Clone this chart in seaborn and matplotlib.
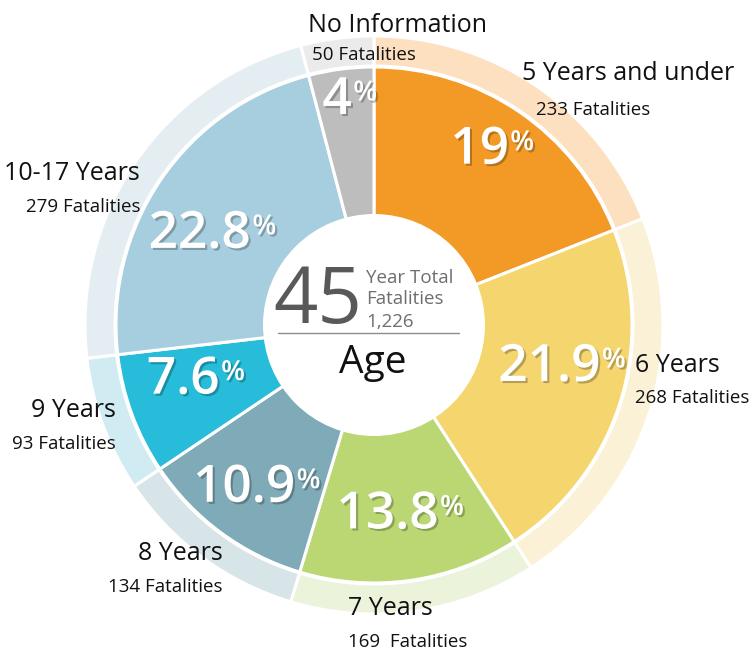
import numpy as np
import matplotlib.pyplot as plt
import matplotlib.patheffects as pe
from matplotlib.patches import Circle
import seaborn as sns

# age groups, clockwise from 12 o'clock
ages = ["5 Years and under", "6 Years", "7 Years", "8 Years",
        "9 Years", "10-17 Years", "No Information"]
fatalities = [233, 268, 169, 134, 93, 279, 50]
pct_labels = ["19", "21.9", "13.8", "10.9", "7.6", "22.8", "4"]
fatality_labels = ["233 Fatalities", "268 Fatalities", "169  Fatalities",
                   "134 Fatalities", "93 Fatalities", "279 Fatalities",
                   "50 Fatalities"]
years = "45"
total = "1,226"

inner_colors = ["#F39A26", "#F4D56E", "#BAD774", "#7FAAB8",
                "#27BCD9", "#A7CEDE", "#BDBDBD"]
outer_colors = ["#FDE0C0", "#FBF1D6", "#EBF3DA", "#D7E4E8",
                "#D1EBF2", "#E4EEF2", "#EBEBEB"]

W, H = 756, 656
cx, cy = 374, H - 325
r_in, r_out = 258, 289

# percent label placement (fraction of radius, angle nudge in degrees)
pct_dist = [0.79, 0.70, 0.74, 0.81, 0.77, 0.76, 0.88]
pct_nudge = [3, 4, -4, -2, -4, 7, 2]

# category label anchors in pixels (x, baseline y from top, alignment)
name_pos = [(522, 80, "left"), (635, 372, "left"), (348, 615, "left"),
            (223, 560, "right"), (116, 417, "right"), (140, 180, "right"),
            (308, 32, "left")]
fat_pos = [(536, 115, "left"), (635, 403, "left"), (348, 647, "left"),
           (223, 592, "right"), (116, 449, "right"), (140, 212, "right"),
           (312, 60, "left")]

sns.set_theme(style="white")
plt.rcParams['font.family'] = ['Open Sans', 'DejaVu Sans']

fig = plt.figure(figsize=(7.56, 6.56), dpi=100)
ax = fig.add_axes([0, 0, 1, 1])

outer, _ = ax.pie(fatalities, colors=outer_colors, radius=r_out, center=(cx, cy),
                  startangle=90, counterclock=False,
                  wedgeprops=dict(width=r_out - r_in - 1, edgecolor="white", linewidth=2.2))
inner, _ = ax.pie(fatalities, colors=inner_colors, radius=r_in, center=(cx, cy),
                  startangle=90, counterclock=False,
                  wedgeprops=dict(edgecolor="white", linewidth=2.2))
ax.add_patch(Circle((cx, cy), 111, facecolor="white", edgecolor="none", zorder=3))

ax.set_xlim(0, W)
ax.set_ylim(0, H)
ax.set_aspect("equal")
ax.axis("off")

shadow = [pe.SimplePatchShadow(offset=(1.5, -1.5), shadow_rgbFace="black", alpha=0.25),
          pe.Normal()]

# percentages inside the wedges
for w, lab, d, nudge in zip(inner, pct_labels, pct_dist, pct_nudge):
    ang = np.deg2rad((w.theta1 + w.theta2) / 2 + nudge)
    x = cx + d * r_in * np.cos(ang)
    y = cy + d * r_in * np.sin(ang)
    t = ax.text(x, y, lab, ha="center", va="center", color="white",
                fontsize=37, fontweight="semibold", zorder=5, path_effects=shadow)
    ax.annotate("%", xy=(1.0, 0.95), xycoords=t, xytext=(1, 0), textcoords="offset points",
                ha="left", va="top", color="white", fontsize=20, fontweight="semibold",
                zorder=5, path_effects=shadow)

# category labels around the ring
for name, fat, (nx, ny, nha), (fx, fy, fha) in zip(ages, fatality_labels, name_pos, fat_pos):
    ax.text(nx, H - ny, name, ha=nha, va="baseline", fontsize=18, color="#111111", zorder=6)
    ax.text(fx, H - fy, fat, ha=fha, va="baseline", fontsize=13.5, color="#111111", zorder=6)

# centre block
ax.text(362, H - 323, years, ha="right", va="baseline", fontsize=56, color="#58595B", zorder=6)
ax.text(366, H - 283, "Year Total", ha="left", va="baseline", fontsize=13.5, color="#6D6E70", zorder=6)
ax.text(366, H - 304, "Fatalities", ha="left", va="baseline", fontsize=13.5, color="#6D6E70", zorder=6)
ax.text(366, H - 327, total, ha="left", va="baseline", fontsize=13.5, color="#6D6E70", zorder=6)
ax.plot([278, 459], [H - 333, H - 333], color="#8C8C8C", lw=1, zorder=6)
ax.text(373, H - 373, "Age", ha="center", va="baseline", fontsize=28, color="#111111", zorder=6)

plt.savefig("out.png", dpi=100)
